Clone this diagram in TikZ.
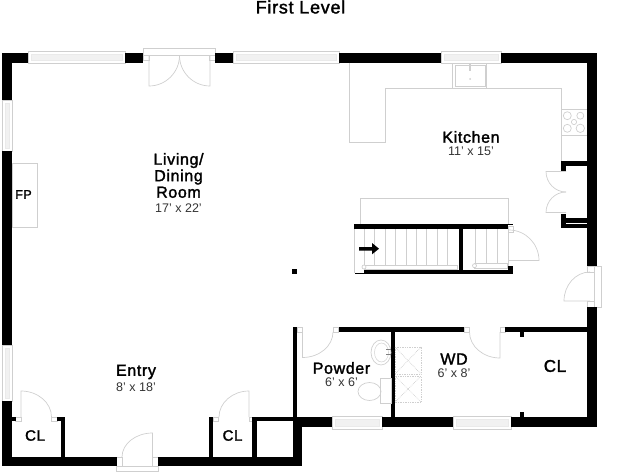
\documentclass[tikz,border=0pt]{standalone}
\usepackage{fontspec}
\setmainfont{Liberation Sans}
\newfontfamily\roomfont[FakeBold=1.8,LetterSpace=4]{Liberation Sans}
\usetikzlibrary{calc, positioning}
\definecolor{FixtureGray}{HTML}{CFCFCF}
\definecolor{PaneGray}{HTML}{F1F1F1}
\definecolor{DimText}{HTML}{333333}
\tikzset{
  wall/.style={fill=black, draw=none},
  fixture/.style={draw=FixtureGray, line width=0.7pt},
  winframe/.style={draw=FixtureGray, fill=white, line width=0.6pt},
  winpane/.style={draw=PaneGray!80!FixtureGray, fill=PaneGray, line width=0.4pt},
  tread/.style={draw=FixtureGray, line width=0.7pt},
  appliance/.style={draw=FixtureGray, densely dotted, line width=0.7pt},
  titletext/.style={inner sep=0pt, font=\roomfont\fontsize{18}{18}\selectfont, align=center},
  roomlabel/.style={inner sep=0pt, font=\roomfont\fontsize{16}{16.5}\selectfont, align=center},
  smalllabel/.style={inner sep=0pt, font=\roomfont\fontsize{15}{15}\selectfont},
  dimlabel/.style={inner sep=0pt, text=DimText, font=\fontsize{12.5}{13}\selectfont}
}

\begin{document}
\begin{tikzpicture}[x=1pt, y=-1pt]
  \useasboundingbox (0,0) rectangle (640,476);

  % Windows and door frames
  \foreach \xa/\ya/\xb/\yb in {28/51/125/63.5, 233/51/339/63.5, 441/51/501/63.5,
      332/416/382/429, 453/416/511/429, 2/100/12.5/151.5, 2/345/12.5/401} {
    \draw[winframe] (\xa,\ya) rectangle (\xb,\yb);
    \draw[winpane] ($(\xa,\ya)+(3,3)$) rectangle ($(\xb,\yb)+(-3,-3)$);
  }
  \draw[winframe] (143,48.5) rectangle (215,55.5);
  \draw[winframe] (116.5,466) rectangle (158,471);
  \draw[winframe] (594,266) rectangle (601,307);
  \foreach \xa/\ya/\xb/\yb in {143/55.5/149/60, 209/55.5/215/60, 116.5/457/122/466, 152.5/457/158/466,
      587/266/594/272, 587/301/594/307, 15.5/417/21/421, 51.5/417/57/421,
      213/417/218.5/421, 249/417/255/421, 297/327/302.5/332, 333/327/338.7/332,
      464.3/327/469.5/332, 500/327/505/332, 508/226/513/232} {
    \draw[winframe] (\xa,\ya) rectangle (\xb,\yb);
  }

  % Walls
  \foreach \xa/\ya/\xb/\yb in {2/53/28/63, 125/53/143/63, 215/53/233/63, 339/53/441/63, 501/53/597/63,
      2/53/12/100, 2/151.5/12/345, 2/401/12/466, 587/53/597/266, 587/307/597/427,
      2/457/116.5/466, 158/457/302/466, 293/417/332/427, 382/417/453/427, 511/417/597/427,
      293/417/302/466, 292.5/327/296.7/417, 255/417/293/421, 252/417/256.5/457, 209/417/213/457,
      60.5/417/65/457, 57/417/65/421, 12/417/15.5/421,
      338.7/327/464.3/332, 505/327/587/332, 391/332/395/417,
      519.5/332/524/337, 519.5/412/524/417, 292/269/297/274,
      561/161/587/166, 561/161/566/171, 561/214/566/228, 561/218/587/222.5, 561/224/587/228,
      354/224/508/229, 458.5/229/463/270, 364/269.5/513/273.5, 508/266/513/273.5} {
    \fill[wall] (\xa,\ya) rectangle (\xb,\yb);
  }
  \fill[wall] (355,272.5) rectangle (364,273.5);
  \fill[wall] (508,223.5) rectangle (513,224.5);

  % Door swings
  \foreach \h/\l/\e in {{149,55.5}/{149,86}/{179.5,55.5}, {210,55.5}/{210,86}/{179.5,55.5},
      {21,417}/{21,391}/{51.5,417}, {249,417}/{249,391}/{219,417}, {152.5,457}/{152.5,433}/{122,457},
      {302.5,332}/{302.5,357.5}/{333,332}, {500,332}/{500,358}/{469.5,332},
      {590,301}/{564,301}/{590,272}, {566,171.5}/{546,171.5}/{566,192}, {566,212.5}/{546,212.5}/{566,192},
      {509,260.5}/{539,260.5}/{509,230}} {
    \draw[fixture] (\h) -- (\l) .. controls ($(\l)+.55*(\e)-.55*(\h)$) and ($(\e)+.55*(\l)-.55*(\h)$) .. (\e);
  }

  % Kitchen counter and fixtures
  \draw[fixture] (349,63) -- (349,142.5) -- (385,142.5) -- (385,88) -- (561,88) -- (561,161);
  \draw[fixture] (561,109.5) -- (587,109.5);
  \draw[fixture] (561,135) -- (587,135);
  \foreach \cx/\cy/\r in {567.3/115.7/4, 580.3/115.7/3.5, 567.3/128.3/4, 580.3/128.3/4.2, 574/122/2.6} {
    \draw[fixture] (\cx,\cy) circle [radius=\r pt];
  }
  \draw[fixture] (452.7,63) rectangle (486.5,88);
  \draw[fixture] (455,65) rectangle (485,86.5);
  \draw[fixture, line width=1.6pt] (470,63.5) -- (470,71);
  \fill[FixtureGray] (470,79) circle [radius=1pt];

  % Stairs
  \draw[fixture] (360,224) -- (360,198) -- (508,198) -- (508,224);
  \draw[fixture] (354,229) -- (354,272.5);
  \draw[fixture] (508,232) -- (508,266);
  \foreach \sx in {364.3,374.3,385,395.7,406,416.3,426.7,437.3,447.7} {
    \draw[tread] (\sx,229) -- (\sx,265);
  }
  \foreach \sx in {475,486,497} {
    \draw[tread] (\sx,229) -- (\sx,263.5);
  }
  \draw[fixture] (364,265) rectangle (457,269);
  \draw[fixture] (474.5,263.5) rectangle (507,268);
  \draw[fixture, fill=white] (364,267) circle [radius=2pt];
  \draw[fixture, fill=white] (474.5,265.7) circle [radius=2pt];
  \fill[wall] (359,247) -- (372,247) -- (372,243) -- (379,248.7) -- (372,254.3) -- (372,250.5) -- (359,250.5) -- cycle;

  % Powder room and laundry fixtures
  \draw[fixture] (381,352.5) ellipse [x radius=10pt, y radius=12.5pt];
  \draw[fixture, line width=0.5pt] (381.5,352.5) ellipse [x radius=7pt, y radius=9.5pt];
  \fill[gray] (386,349) rectangle (391,350);
  \fill[gray] (386,354) rectangle (391,355);
  \draw[fixture] (380.5,378) rectangle (391,403.5);
  \draw[fixture] (369.5,391.5) ellipse [x radius=11.5pt, y radius=9pt];
  \foreach \wy/\wb in {347/374, 376/402} {
    \draw[appliance] (395,\wy) rectangle (421,\wb);
    \draw[appliance] (395,\wy) -- (421,\wb);
    \draw[appliance] (395,\wb) -- (421,\wy);
  }

  % Fireplace
  \draw[fixture] (12,163.5) rectangle (37.5,227);

  % Labels
  \node[titletext] (title) at (300.5,7) {First Level};
  \node[roomlabel] (living) at (178.5,175.5) {Living/\\Dining\\Room};
  \node[dimlabel, below=5pt of living] (livingdim) {17' x 22'};
  \node[roomlabel] (kitchen) at (471,137) {Kitchen};
  \node[dimlabel, below=4pt of kitchen] (kitchendim) {11' x 15'};
  \node[roomlabel] (entry) at (136,372) {Entry};
  \node[dimlabel, below=3.5pt of entry] (entrydim) {8' x 18'};
  \node[roomlabel] (powder) at (341.5,368) {Powder};
  \node[dimlabel, below=3.5pt of powder] (powderdim) {6' x 6'};
  \node[roomlabel] (wd) at (454,359) {WD};
  \node[dimlabel, below=4pt of wd] (wddim) {6' x 8'};
  \node[smalllabel, font=\roomfont\fontsize{12.5}{12.5}\selectfont] (fp) at (23.5,194.5) {FP};
  \node[smalllabel] (clone) at (35,435.5) {CL};
  \node[smalllabel] (cltwo) at (232.5,435.5) {CL};
  \node[smalllabel, font=\roomfont\fontsize{17}{17}\selectfont] (clthree) at (555,366) {CL};
\end{tikzpicture}
\end{document}
